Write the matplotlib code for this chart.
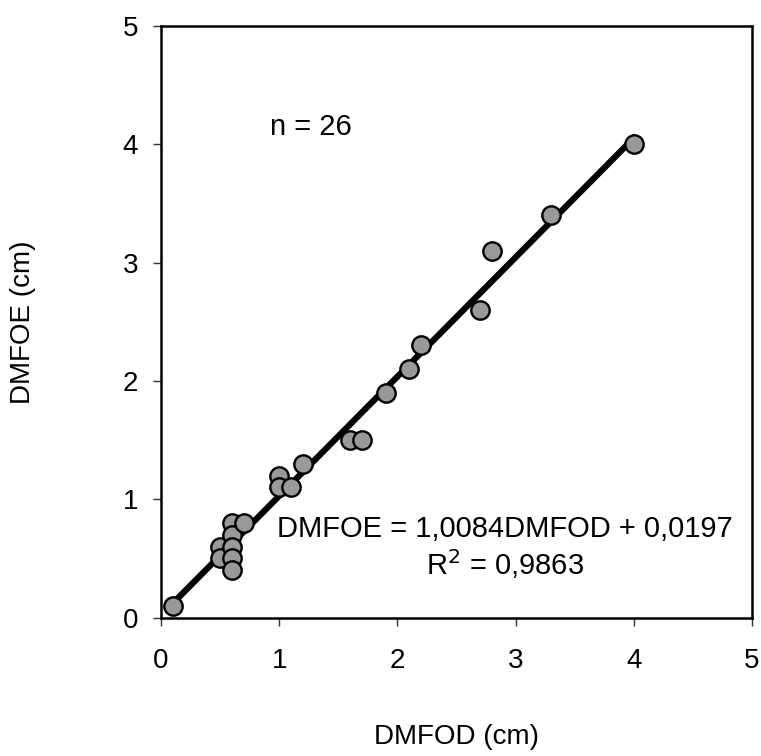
import matplotlib
matplotlib.use('Agg')
import matplotlib.pyplot as plt
import numpy as np

plt.rcParams['font.family'] = ['Liberation Sans', 'DejaVu Sans']

# Data
dmfod = [0.1, 0.5, 0.5, 0.6, 0.6, 0.6, 0.6, 0.6, 0.7,
         1.0, 1.0, 1.1, 1.2, 1.6, 1.7, 1.9, 2.1, 2.2, 2.7, 2.8, 3.3, 4.0]
dmfoe = [0.1, 0.6, 0.5, 0.8, 0.7, 0.6, 0.5, 0.4, 0.8,
         1.2, 1.1, 1.1, 1.3, 1.5, 1.5, 1.9, 2.1, 2.3, 2.6, 3.1, 3.4, 4.0]
slope = 1.0084
intercept = 0.0197

fig = plt.figure(figsize=(7.61, 7.56), dpi=100)
ax = fig.add_axes([0.2116, 0.1832, 0.7766, 0.7824])

# regression line
xl = np.array([min(dmfod), max(dmfod)])
ax.plot(xl, slope * xl + intercept, color='black', linewidth=4.5, zorder=2)

ax.scatter(dmfod, dmfoe, s=175, facecolor='#999999', edgecolor='black',
           linewidth=1.7, zorder=3)

ax.set_xlim(0, 5)
ax.set_ylim(0, 5)
ax.set_xticks(range(6))
ax.set_yticks(range(6))
ax.tick_params(direction='out', length=6, width=1.0, color='#333333',
               labelsize=20)
ax.tick_params(axis='y', pad=10.5)
ax.tick_params(axis='x', pad=16)
for s in ax.spines.values():
    s.set_linewidth(1.8)

ax.set_xlabel('DMFOD (cm)', fontsize=20, labelpad=36)
ax.set_ylabel('DMFOE (cm)', fontsize=20, labelpad=62)

ax.text(1.27, 4.15, 'n = 26', fontsize=21, ha='center', va='center')
ax.text(2.91, 0.75, 'DMFOE = 1,0084DMFOD + 0,0197', fontsize=21,
        ha='center', va='center')
ax.text(2.91, 0.45, 'R$^2$ = 0,9863', fontsize=21, ha='center', va='center')

fig.savefig('out.png', dpi=100)
